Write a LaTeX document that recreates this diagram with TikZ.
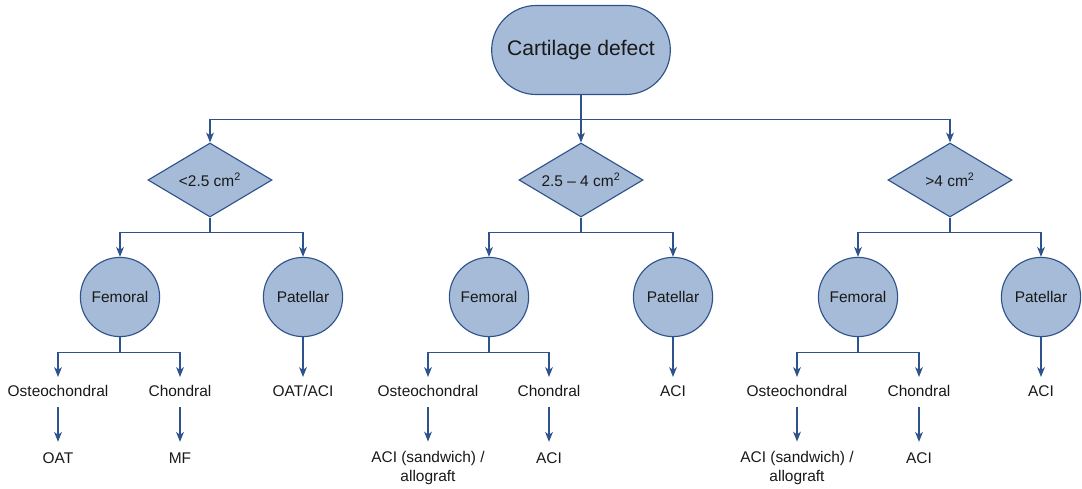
\documentclass[tikz,border=0pt]{standalone}
\usepackage{fontspec}
\setmainfont{Liberation Sans}
\usepackage{xcolor}
\usetikzlibrary{arrows.meta,shapes.geometric,shapes.misc}
\definecolor{boxfill}{RGB}{166,187,215}
\definecolor{boxline}{RGB}{46,82,140}

\begin{document}
\begin{tikzpicture}[x=0.025cm,y=-0.025cm,>=Stealth,
 font=\fontsize{11}{13}\selectfont,text=black!90,
 link/.style={line width=0.8pt,draw=boxline},
 flow/.style={link,-{Stealth[length=7pt,width=5.5pt,inset=2pt]}},
 start/.style={rounded rectangle,draw=boxline,fill=boxfill,line width=0.8pt,
   minimum width=4.7cm,minimum height=2.225cm,font=\fontsize{15}{18}\selectfont},
 sizebox/.style={diamond,draw=boxline,fill=boxfill,line width=0.8pt,aspect=1.7,
   inner sep=0pt,minimum width=3.1cm,minimum height=1.85cm},
 sitebox/.style={circle,draw=boxline,fill=boxfill,line width=0.8pt,
   minimum size=1.98cm,inner sep=0pt},
 pick/.style={inner xsep=2pt,inner ysep=5.5pt,text height=8pt,text depth=2pt},
 outcome/.style={inner xsep=2pt,inner ysep=7pt,text height=8pt,text depth=2pt},
 outcometwo/.style={inner xsep=2pt,inner ysep=7pt,align=center}]
\useasboundingbox (0,0) rectangle (1082,488);

% Defect and size classes
\node[start] (defect) at (581,50) {Cartilage defect};
\node[sizebox] (small) at (210,180) {<2.5 cm\textsuperscript{2}};
\node[sizebox] (medium) at (581,180) {2.5 -- 4 cm\textsuperscript{2}};
\node[sizebox] (large) at (950,180) {>4 cm\textsuperscript{2}};

% Location of the lesion
\node[sitebox] (fem1) at (120,297) {Femoral};
\node[sitebox] (pat1) at (303,297) {Patellar};
\node[sitebox] (fem2) at (489,297) {Femoral};
\node[sitebox] (pat2) at (673,297) {Patellar};
\node[sitebox] (fem3) at (858,297) {Femoral};
\node[sitebox] (pat3) at (1041,297) {Patellar};

% Lesion type and treatment
\node[pick] (osteo1) at (58,392) {Osteochondral};
\node[pick] (chon1) at (180,392) {Chondral};
\node[pick] (patres1) at (303,392) {OAT/ACI};
\node[pick] (osteo2) at (428,392) {Osteochondral};
\node[pick] (chon2) at (549,392) {Chondral};
\node[pick] (patres2) at (673,392) {ACI};
\node[pick] (osteo3) at (797,392) {Osteochondral};
\node[pick] (chon3) at (919,392) {Chondral};
\node[pick] (patres3) at (1041,392) {ACI};

\node[outcome] (osteores1) at (58,459) {OAT};
\node[outcome] (chonres1) at (180,459) {MF};
\node[outcometwo] (osteores2) at (428,468) {ACI (sandwich) /\\allograft};
\node[outcome] (chonres2) at (549,459) {ACI};
\node[outcometwo] (osteores3) at (797,468) {ACI (sandwich) /\\allograft};
\node[outcome] (chonres3) at (919,459) {ACI};

\draw[flow] (defect.south) -- (medium.north);
\draw[flow] (defect.south) -- ++(0,24) -| (small.north);
\draw[flow] (defect.south) -- ++(0,24) -| (large.north);
\foreach \d/\i in {small/1,medium/2,large/3}{
  \draw[flow] (\d.south) -- ++(0,15) -| (fem\i.north);
  \draw[flow] (\d.south) -- ++(0,15) -| (pat\i.north);
  \draw[flow] (fem\i.south) -- ++(0,15) -| (osteo\i.north);
  \draw[flow] (fem\i.south) -- ++(0,15) -| (chon\i.north);
  \draw[flow] (pat\i.south) -- (patres\i.north);
  \draw[flow] (osteo\i.south) -- (osteores\i.north);
  \draw[flow] (chon\i.south) -- (chonres\i.north);
}
\end{tikzpicture}
\end{document}
